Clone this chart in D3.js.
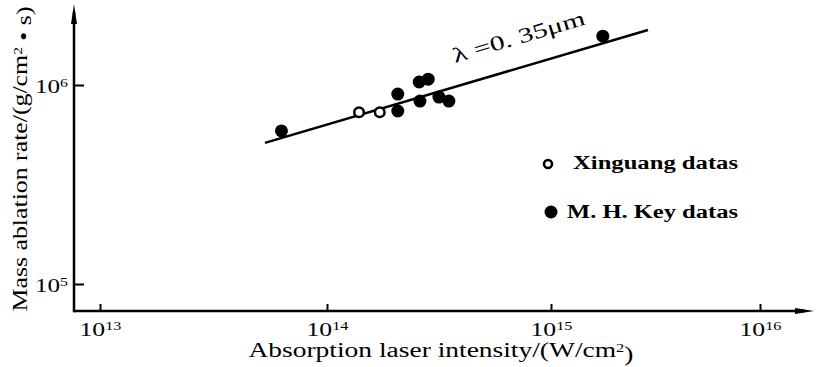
<!DOCTYPE html>
<html>
<head>
<meta charset="utf-8">
<script src="https://cdn.jsdelivr.net/npm/d3@7"></script>
<style>
  body { margin: 0; background: #fff; }
  text { font-family: "Liberation Serif", "DejaVu Serif", serif; fill: #000; }
</style>
</head>
<body>
<div id="chart"></div>
<script>
// data
const xinguangI = [1.39e14, 1.72e14];
const xinguangM = [7.3e5, 7.3e5];
const keyI = [6.3e13, 2.07e14, 2.07e14, 2.58e14, 2.83e14, 2.6e14, 3.16e14, 3.5e14, 1.77e15];
const keyM = [5.88e5, 9.0e5, 7.4e5, 1.035e6, 1.07e6, 8.3e5, 8.7e5, 8.3e5, 1.76e6];
const fitI = [5.33e13, 2.91e15];
const fitM = [5.12e5, 1.89e6];
const xTicks = [1e13, 1e14, 1e15, 1e16];
const yTicks = [1e5, 1e6];

const width = 817, height = 367;

const svg = d3.select('#chart')
    .append('svg')
    .attr('width', width)
    .attr('height', height);

// hand drawn axes, decades are not quite even
const x = d3.scaleLog()
    .domain(xTicks)
    .range([100, 327, 551, 760]);

const y = d3.scaleLog()
    .domain(yTicks)
    .range([284, 85]);

const x0 = 74, y0 = 311;

// superscript labels like 10^13 (the scan is stretched sideways)
function powLabel(len) {
    return sel => sel.each(function(d) {
        const t = d3.select(this);
        t.text(null)
            .attr('textLength', len)
            .attr('lengthAdjust', 'spacingAndGlyphs');
        t.append('tspan').text('10');
        t.append('tspan')
            .attr('dy', '-0.5em')
            .style('font-size', '12px')
            .text(Math.round(Math.log10(d)));
    });
}

// X axis
const xAxis = svg.append('g')
    .attr('transform', `translate(0, ${y0})`)
    .call(d3.axisBottom(x).tickValues(xTicks).tickSizeInner(-7).tickSizeOuter(0).tickPadding(12));
xAxis.select('.domain').remove();
xAxis.selectAll('line').attr('stroke', '#000').attr('stroke-width', 2);
xAxis.selectAll('text')
    .style('font-size', '19px')
    .call(powLabel(42));

// Y axis
const yAxis = svg.append('g')
    .attr('transform', `translate(${x0}, 0)`)
    .call(d3.axisLeft(y).tickValues(yTicks).tickSizeInner(-10).tickSizeOuter(0).tickPadding(6));
yAxis.select('.domain').remove();
yAxis.selectAll('line').attr('stroke', '#000').attr('stroke-width', 2);
yAxis.selectAll('text')
    .style('font-size', '19px')
    .attr('dy', '0.4em')
    .call(powLabel(33));

// axis lines with arrows
svg.append('line')
    .attr('x1', x0).attr('y1', y0)
    .attr('x2', 805).attr('y2', y0)
    .attr('stroke', '#000').attr('stroke-width', 2.5);
svg.append('path')
    .attr('d', `M814,${y0} L795,${y0 - 3} L795,${y0 + 3} Z`)
    .attr('fill', '#000');

svg.append('line')
    .attr('x1', x0).attr('y1', y0 + 1.25)
    .attr('x2', x0).attr('y2', 12)
    .attr('stroke', '#000').attr('stroke-width', 2.5);
svg.append('path')
    .attr('d', `M${x0},4 L${x0 - 3},24 L${x0 + 3},24 Z`)
    .attr('fill', '#000');

// fitted line
svg.append('line')
    .attr('x1', x(fitI[0])).attr('y1', y(fitM[0]))
    .attr('x2', x(fitI[1])).attr('y2', y(fitM[1]))
    .attr('stroke', '#000').attr('stroke-width', 2.5);

const angle = Math.atan2(y(fitM[1]) - y(fitM[0]), x(fitI[1]) - x(fitI[0])) * 180 / Math.PI;
svg.append('text')
    .attr('transform', `translate(455, 63) rotate(${angle})`)
    .attr('textLength', 137)
    .attr('lengthAdjust', 'spacingAndGlyphs')
    .style('font-size', '21px')
    .text('λ =0. 35μm');

// points
svg.append('g')
    .selectAll('circle')
    .data(keyI.map((d, i) => [d, keyM[i]]))
    .enter()
    .append('circle')
    .attr('cx', d => x(d[0]))
    .attr('cy', d => y(d[1]))
    .attr('r', 6.5)
    .attr('fill', '#000');

svg.append('g')
    .selectAll('circle')
    .data(xinguangI.map((d, i) => [d, xinguangM[i]]))
    .enter()
    .append('circle')
    .attr('cx', d => x(d[0]))
    .attr('cy', d => y(d[1]))
    .attr('r', 4.8)
    .attr('fill', '#fff')
    .attr('stroke', '#000')
    .attr('stroke-width', 2.5);

// legend
svg.append('circle')
    .attr('cx', 548).attr('cy', 164).attr('r', 4)
    .attr('fill', '#fff').attr('stroke', '#000').attr('stroke-width', 2.5);
svg.append('text')
    .attr('x', 573).attr('y', 169)
    .attr('textLength', 165)
    .attr('lengthAdjust', 'spacingAndGlyphs')
    .style('font-size', '18px').style('font-weight', 'bold')
    .text('Xinguang datas');

svg.append('circle')
    .attr('cx', 551).attr('cy', 212).attr('r', 6.5)
    .attr('fill', '#000');
svg.append('text')
    .attr('x', 567).attr('y', 218)
    .attr('textLength', 171)
    .attr('lengthAdjust', 'spacingAndGlyphs')
    .style('font-size', '18px').style('font-weight', 'bold')
    .text('M. H. Key datas');

// axis titles
const xt = svg.append('text')
    .attr('x', 441).attr('y', 357)
    .attr('text-anchor', 'middle')
    .attr('textLength', 385)
    .attr('lengthAdjust', 'spacingAndGlyphs')
    .style('font-size', '20px');
xt.append('tspan').text('Absorption laser intensity/(W/cm');
xt.append('tspan').attr('dy', '-0.45em').style('font-size', '12px').text('2');
xt.append('tspan').attr('dy', '0.45em').text(')');

const yt = svg.append('text')
    .attr('transform', 'translate(27, 159) rotate(-90)')
    .attr('text-anchor', 'middle')
    .attr('textLength', 305)
    .attr('lengthAdjust', 'spacingAndGlyphs')
    .style('font-size', '20px');
yt.append('tspan').text('Mass ablation rate/(g/cm');
yt.append('tspan').attr('dy', '-0.45em').style('font-size', '12px').text('2');
yt.append('tspan').attr('dy', '0.45em').text(' • s)');
</script>
</body>
</html>
